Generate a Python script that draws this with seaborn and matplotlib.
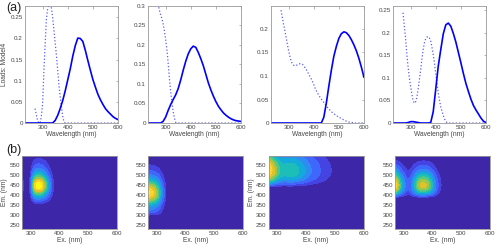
import numpy as np
import matplotlib
matplotlib.use("Agg")
import matplotlib.pyplot as plt
from matplotlib.colors import LinearSegmentedColormap
from matplotlib.ticker import FormatStrFormatter
import seaborn as sns

# wavelength grids of the loadings
ex_wl = np.arange(270, 601, 5)
em_wl = np.arange(230, 601, 10)

# excitation loadings (dotted lines), 270..600 nm every 5 nm
ex1 = [0.034, 0.02, 0.006, 0, 0, 0.015, 0.045, 0.12, 0.185, 0.245, 0.27, 0.28,
       0.28, 0.272, 0.25, 0.22, 0.19, 0.16, 0.125, 0.09, 0.062, 0.038, 0.016, 0.003] + [0] * 43
ex2 = [0.305, 0.29, 0.278, 0.268, 0.255, 0.237, 0.215, 0.19, 0.155, 0.115, 0.082,
       0.055, 0.03, 0.013, 0.002] + [0] * 52
ex3 = [0.24, 0.225, 0.21, 0.197, 0.183, 0.168, 0.154, 0.142, 0.132, 0.126, 0.123,
       0.122, 0.122, 0.124, 0.126, 0.126, 0.126, 0.125, 0.122, 0.118, 0.114, 0.109,
       0.104, 0.099, 0.094, 0.088, 0.082, 0.075, 0.069, 0.064, 0.059, 0.055, 0.051,
       0.047, 0.044, 0.04, 0.036, 0.033, 0.03, 0.027, 0.024, 0.022, 0.02, 0.018,
       0.016, 0.014, 0.012, 0.011, 0.009, 0.008, 0.006, 0.005, 0.004, 0.003, 0.002,
       0.002, 0.001, 0.001, 0.001] + [0] * 8
ex4 = [0.245, 0.215, 0.188, 0.153, 0.125, 0.1, 0.082, 0.064, 0.05, 0.044, 0.047,
       0.057, 0.075, 0.097, 0.118, 0.142, 0.163, 0.178, 0.187, 0.191, 0.192, 0.189,
       0.182, 0.168, 0.152, 0.133, 0.11, 0.088, 0.067, 0.05, 0.036, 0.026, 0.017,
       0.009, 0.004, 0.001] + [0] * 31

# emission loadings (solid lines), 230..600 nm every 10 nm
em1 = [0] * 12 + [0.006, 0.018, 0.034, 0.053, 0.076, 0.102, 0.128, 0.158, 0.183,
                  0.201, 0.2, 0.193, 0.172, 0.148, 0.125, 0.103, 0.085, 0.068, 0.055,
                  0.044, 0.034, 0.027, 0.021, 0.015, 0.011, 0.008]
em2 = [0] * 6 + [0.004, 0.015, 0.032, 0.047, 0.06, 0.072, 0.088, 0.11, 0.135, 0.158,
                 0.177, 0.19, 0.197, 0.194, 0.181, 0.165, 0.147, 0.125, 0.103, 0.085,
                 0.069, 0.055, 0.043, 0.034, 0.026, 0.02, 0.015, 0.011, 0.008, 0.006,
                 0.005, 0.004]
em3 = [0] * 21 + [0.012, 0.042, 0.078, 0.112, 0.142, 0.163, 0.18, 0.19, 0.194, 0.192,
                  0.186, 0.177, 0.166, 0.153, 0.137, 0.118, 0.097]
em4 = [0] * 6 + [0.001, 0.003, 0.003, 0.002, 0.001, 0, 0, 0, 0, 0.001, 0.025, 0.075,
                 0.126, 0.163, 0.198, 0.218, 0.222, 0.215, 0.199, 0.18, 0.157, 0.134,
                 0.11, 0.088, 0.07, 0.053, 0.039, 0.029, 0.02, 0.011, 0.004, 0.001]

ex_all = [ex1, ex2, ex3, ex4]
em_all = [em1, em2, em3, em4]
ylims = [0.277, 0.3, 0.249, 0.26]
yticks = [[0, 0.05, 0.1, 0.15, 0.2, 0.25], [0, 0.05, 0.1, 0.15, 0.2, 0.25, 0.3],
          [0, 0.05, 0.1, 0.15, 0.2], [0, 0.05, 0.1, 0.15, 0.2, 0.25]]
# contour levels as fractions of each EEM's maximum
level_frac = [0, 0.07, 0.15, 0.25, 0.35, 0.45, 0.55, 0.65, 0.75, 0.85, 0.95, 1.0]

parula = LinearSegmentedColormap.from_list("parula", [
    (0.2422, 0.1504, 0.6603), (0.2803, 0.2782, 0.9221), (0.2440, 0.4358, 0.9988),
    (0.1540, 0.5902, 0.9218), (0.0297, 0.7082, 0.8163), (0.1938, 0.7758, 0.6251),
    (0.5044, 0.7993, 0.3480), (0.8634, 0.7406, 0.1596), (0.9892, 0.8136, 0.1885),
    (0.9763, 0.9831, 0.0538)])
band_colors = [parula(k / (len(level_frac) - 2)) for k in range(len(level_frac) - 1)]

sns.set_style("white")
plt.rcParams["font.family"] = ["Liberation Sans", "DejaVu Sans"]
plt.rcParams["font.size"] = 4.5
txt = "#444444"
edge = "#999999"


def style_axes(ax):
    for s in ax.spines.values():
        s.set_color(edge)
        s.set_linewidth(0.6)
    ax.tick_params(direction="in", length=1.8, width=0.5, colors=edge,
                   labelcolor=txt, labelsize=4.5, pad=1.5, top=True, right=True)


fig = plt.figure(figsize=(5, 2.48), dpi=100)
top_lefts = [0.05, 0.296, 0.542, 0.786]
bot_lefts = [0.044, 0.296, 0.537, 0.79]

for i in range(4):
    ax = fig.add_axes([top_lefts[i], 0.504, 0.186, 0.472])
    sns.lineplot(x=ex_wl, y=ex_all[i], ax=ax, color="#5a5aff", linestyle=":", lw=0.9)
    sns.lineplot(x=em_wl, y=em_all[i], ax=ax, color="#0000ff", lw=1.2)
    ax.set_xlim(230, 600)
    ax.set_ylim(0, ylims[i])
    ax.set_xticks([300, 400, 500, 600])
    ax.set_yticks(yticks[i])
    ax.yaxis.set_major_formatter(FormatStrFormatter("%g"))
    ax.set_xlabel("Wavelength (nm)", color=txt, fontsize=4.8, labelpad=1)
    if i == 0:
        ax.set_ylabel("Loads: Model4", color=txt, fontsize=4.8, labelpad=2)
    style_axes(ax)

    bx = fig.add_axes([bot_lefts[i], 0.077, 0.19, 0.294])
    z = np.outer(em_all[i], ex_all[i])
    bx.contourf(ex_wl, em_wl, z, levels=np.array(level_frac) * z.max(), colors=band_colors)
    bx.set_xlim(270, 600)
    bx.set_ylim(230, 595)
    bx.set_xticks([300, 400, 500, 600])
    bx.set_yticks([250, 300, 350, 400, 450, 500, 550])
    bx.set_xlabel("Ex. (nm)", color=txt, fontsize=4.8, labelpad=1)
    if i in (0, 2):
        bx.set_ylabel("Em. (nm)", color=txt, fontsize=4.8, labelpad=1)
    style_axes(bx)
    bx.tick_params(top=False, right=False, length=0)

fig.text(0.012, 0.968, "(a)", fontsize=9, va="center", color="#222222")
fig.text(0.012, 0.395, "(b)", fontsize=9, va="center", color="#222222")

plt.savefig("out.png", dpi=100)
plt.close()
